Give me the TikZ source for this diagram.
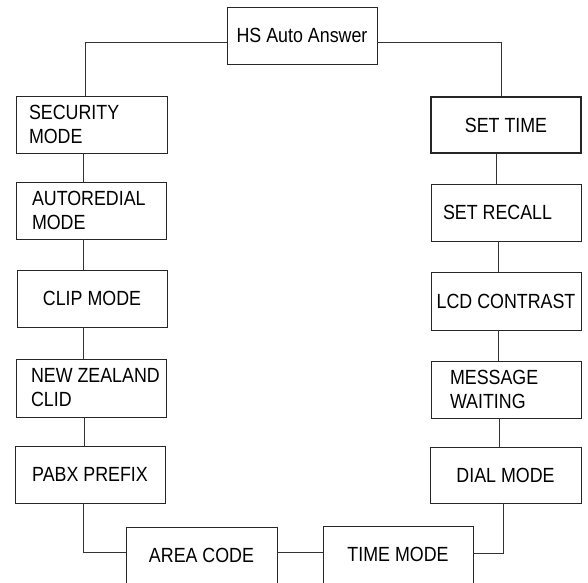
\documentclass[tikz,border=0pt]{standalone}
\usepackage{fontspec}
\setmainfont[FakeStretch=0.87]{Liberation Sans}
\begin{document}
\begin{tikzpicture}[x=1pt,y=-1pt,
  box/.style={draw=black!85, line width=0.8pt, rectangle, minimum width=150pt, minimum height=57pt,
    inner sep=0pt, font=\fontsize{20.5}{24}\selectfont, align=center},
  lbox/.style={box, align=flush left, text width=#1},
  conn/.style={draw=black!80, line width=0.8pt}]
\useasboundingbox (0,0) rectangle (588,582);
\fill[white] (0,0) rectangle (588,582);

\node[box] (hs) at (302,35.5) {HS Auto Answer};
\node[lbox=125pt, minimum width=151pt] (sec) at (91.5,124.5) {SECURITY\\MODE};
\node[lbox=118pt] (auto) at (91,210.5) {AUTOREDIAL\\MODE};
\node[box] (clip) at (92,298.5) {CLIP MODE};
\node[lbox=120pt, minimum height=58pt] (nz) at (91,388) {\mbox{NEW ZEALAND}\\CLID};
\node[box] (pabx) at (90,474.5) {PABX PREFIX};
\node[box, minimum width=151pt] (area) at (201.5,555.5) {AREA CODE};
\node[box] (timem) at (398,554.5) {TIME MODE};
\node[box, minimum width=151pt, minimum height=56pt] (dial) at (505.5,475) {DIAL MODE};
\node[lbox=112pt] (msg) at (506,389.5) {MESSAGE\\WAITING};
\node[box, minimum height=58pt] (lcd) at (506,301) {LCD CONTRAST};
\node[lbox=126pt] (recall) at (506,212.5) {\mbox{SET RECALL}};
\node[box, line width=1.2pt, minimum height=56pt] (settime) at (506,125) {SET TIME};

% left branch
\draw[conn] ([yshift=-6.5pt]hs.west) -| ([xshift=-6.5pt]sec.north);
\draw[conn] ([xshift=-8.5pt]sec.south) -- ([xshift=-8pt]auto.north);
\draw[conn] ([xshift=-8pt]auto.south) -- ([xshift=-9pt]clip.north);
\draw[conn] ([xshift=-9pt]clip.south) -- ([xshift=-8pt]nz.north);
\draw[conn] ([xshift=-7pt]nz.south) -- ([xshift=-6pt]pabx.north);
\draw[conn] ([xshift=-7pt]pabx.south) |- ([yshift=3.5pt]area.west);
\draw[conn] ([yshift=3.5pt]area.east) -- ([yshift=2.5pt]timem.west);
\draw[conn] ([yshift=1.5pt]timem.east) -| ([xshift=-2.5pt]dial.south);
% right branch
\draw[conn] ([yshift=-6.5pt]hs.east) -| ([xshift=-5pt]settime.north);
\draw[conn] ([xshift=-10pt]settime.south) -- ([xshift=-10pt]recall.north);
\draw[conn] ([xshift=-8pt]recall.south) -- ([xshift=-8pt]lcd.north);
\draw[conn] ([xshift=-8pt]lcd.south) -- ([xshift=-8pt]msg.north);
\draw[conn] ([xshift=-7pt]msg.south) -- ([xshift=-6.5pt]dial.north);
\end{tikzpicture}
\end{document}
